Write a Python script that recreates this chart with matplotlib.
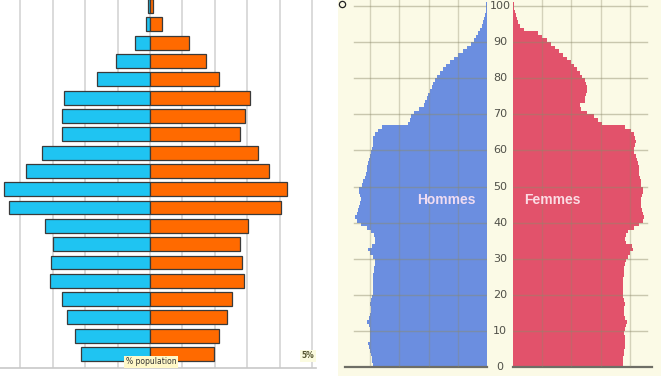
import numpy as np
import matplotlib
matplotlib.use("Agg")
import matplotlib.pyplot as plt
from matplotlib.patches import Rectangle
from matplotlib.lines import Line2D

# ---- left pyramid: % population by 5-year age group (bottom -> top)
groups = ["0-4", "5-9", "10-14", "15-19", "20-24", "25-29", "30-34", "35-39",
          "40-44", "45-49", "50-54", "55-59", "60-64", "65-69", "70-74",
          "75-79", "80-84", "85-89", "90-94", "95+"]
men_pct = [2.13, 2.31, 2.56, 2.72, 3.09, 3.06, 2.99, 3.24, 4.35, 4.50,
           3.83, 3.33, 2.72, 2.72, 2.65, 1.64, 1.05, 0.46, 0.12, 0.05]
women_pct = [1.98, 2.13, 2.38, 2.53, 2.90, 2.84, 2.78, 3.02, 4.04, 4.23,
             3.67, 3.33, 2.78, 2.93, 3.09, 2.13, 1.73, 1.20, 0.37, 0.10]

# ---- right pyramid: population by single year of age (thousands), 0..100
ages = list(range(101))
hommes = [392, 393, 394, 396, 400, 404, 406, 402, 400, 399,
          400, 405, 410, 404, 400, 396, 398, 399, 396, 394,
          392, 390, 389, 390, 389, 389, 388, 386, 383, 384,
          390, 400, 408, 394, 385, 382, 386, 398, 410, 430,
          445, 452, 446, 442, 440, 435, 433, 436, 440, 438,
          428, 423, 418, 416, 412, 410, 408, 405, 400, 396,
          393, 390, 392, 389, 383, 372, 360, 272, 262, 260,
          250, 232, 215, 212, 207, 202, 196, 190, 185, 178,
          171, 161, 150, 139, 126, 112, 99, 82, 68, 56,
          46, 38, 31, 24, 18, 14, 10, 7, 5, 3, 2]
femmes = [376, 377, 378, 379, 381, 384, 385, 383, 382, 381,
          383, 386, 390, 385, 381, 379, 380, 382, 380, 378,
          377, 376, 377, 378, 378, 379, 380, 381, 384, 388,
          393, 400, 412, 408, 388, 384, 386, 395, 415, 432,
          445, 448, 446, 442, 440, 438, 440, 443, 446, 444,
          440, 438, 436, 433, 431, 430, 428, 424, 420, 415,
          415, 418, 420, 418, 414, 405, 382, 305, 292, 276,
          255, 233, 231, 247, 248, 250, 254, 255, 250, 245,
          238, 230, 220, 209, 197, 185, 172, 158, 145, 131,
          117, 100, 85, 36, 25, 18, 13, 9, 7, 5, 3]
age_ticks = [0, 10, 20, 30, 40, 50, 60, 70, 80, 90, 100]
pop_grid = [100, 200, 300, 400]

W, H = 661, 376
fig = plt.figure(figsize=(W / 100, H / 100), dpi=100)
fig.patch.set_facecolor("white")


def box(x0, y0, x1, y1):
    # pixel box (top-left origin) -> figure fraction rect
    return [x0 / W, 1 - y1 / H, (x1 - x0) / W, (y1 - y0) / H]


# background layer
bg = fig.add_axes([0, 0, 1, 1], zorder=0)
bg.set_xlim(0, W)
bg.set_ylim(H, 0)
bg.axis("off")
bg.add_patch(Rectangle((338, 0), W - 338, H, facecolor="#fbfae6",
                       edgecolor="none"))
bg.plot([342], [4], marker="o", ms=4.5, mfc="none", mec="#222222", mew=0.9)

# ---------------- left chart
axl = fig.add_axes(box(0, 0, 316, 368), zorder=1)
y = np.arange(len(groups))
axl.barh(y, [-v for v in men_pct], height=0.76, color="#1fc4f2",
         edgecolor="#3a3a3a", linewidth=0.9, zorder=3)
axl.barh(y, women_pct, height=0.76, color="#ff6a00",
         edgecolor="#3a3a3a", linewidth=0.9, zorder=3)
axl.set_xlim(-4.63, 5.12)
axl.set_ylim(-0.76, 19.33)
for g in range(-4, 6):
    axl.axvline(g, color="#d4d4d4", lw=1.2, zorder=1)
axl.set_facecolor("white")
for s in ["top", "left", "right"]:
    axl.spines[s].set_visible(False)
axl.spines["bottom"].set_color("#c8c8c8")
axl.spines["bottom"].set_linewidth(1.2)
axl.set_xticks([])
axl.set_yticks([])
fig.text(151 / W, 1 - 362 / H, "% population", fontsize=5.5, color="#333333",
         ha="center", va="center", zorder=5,
         bbox=dict(facecolor="#fff8c8", edgecolor="none", pad=1.2))
fig.text(308 / W, 1 - 356 / H, "5%", fontsize=5.5, fontweight="bold",
         color="#555530", ha="center", va="center", zorder=5,
         bbox=dict(facecolor="#fbfbe0", edgecolor="none", pad=0.8))

# ---------------- right chart
px_per_100 = 29.2
ytop = 367 / 3.61
male_c = "#6b8ee0"
female_c = "#e2526b"
grid_c = "#8c8a6a"

axm = fig.add_axes(box(345, 0, 487, 367), zorder=1)
axf = fig.add_axes(box(513, 0, 652, 367), zorder=1)
axc = fig.add_axes(box(487, 0, 513, 367), zorder=1)

axm.barh(ages, hommes, height=1.0, align="edge", color=male_c,
         edgecolor="none", zorder=2)
axf.barh(ages, femmes, height=1.0, align="edge", color=female_c,
         edgecolor="none", zorder=2)
axm.set_xlim(142 / px_per_100 * 100, 0)
axf.set_xlim(0, 139 / px_per_100 * 100)

for ax, xmax in ((axm, 457), (axf, 460)):
    ax.set_ylim(0, ytop)
    ax.patch.set_alpha(0)
    for a in age_ticks[1:]:
        ax.plot([0, xmax], [a, a], color=grid_c, lw=1.0, alpha=0.45, zorder=3)
    for g in pop_grid:
        ax.axvline(g, color=grid_c, lw=1.0, alpha=0.35, zorder=3)
    for s in ["top", "left", "right"]:
        ax.spines[s].set_visible(False)
    ax.spines["bottom"].set_color("#6e6e66")
    ax.spines["bottom"].set_linewidth(1.6)
    ax.set_xticks([])
    ax.set_yticks([])

axc.set_ylim(0, ytop)
axc.set_xlim(0, 1)
axc.axis("off")
for a in age_ticks:
    axc.text(0.5, a, str(a), ha="center", va="center", fontsize=8,
             color="#505048", family=["Liberation Sans Narrow", "DejaVu Sans"])

axm.text(140, 46.3, "Hommes", ha="center", va="center", fontsize=10,
         fontweight="bold", color="#f0dcf2", zorder=4,
         family=["Liberation Sans", "DejaVu Sans"])
axf.text(134, 46.3, "Femmes", ha="center", va="center", fontsize=10,
         fontweight="bold", color="#fbdce4", zorder=4,
         family=["Liberation Sans", "DejaVu Sans"])

fig.savefig("out.png", dpi=100)
